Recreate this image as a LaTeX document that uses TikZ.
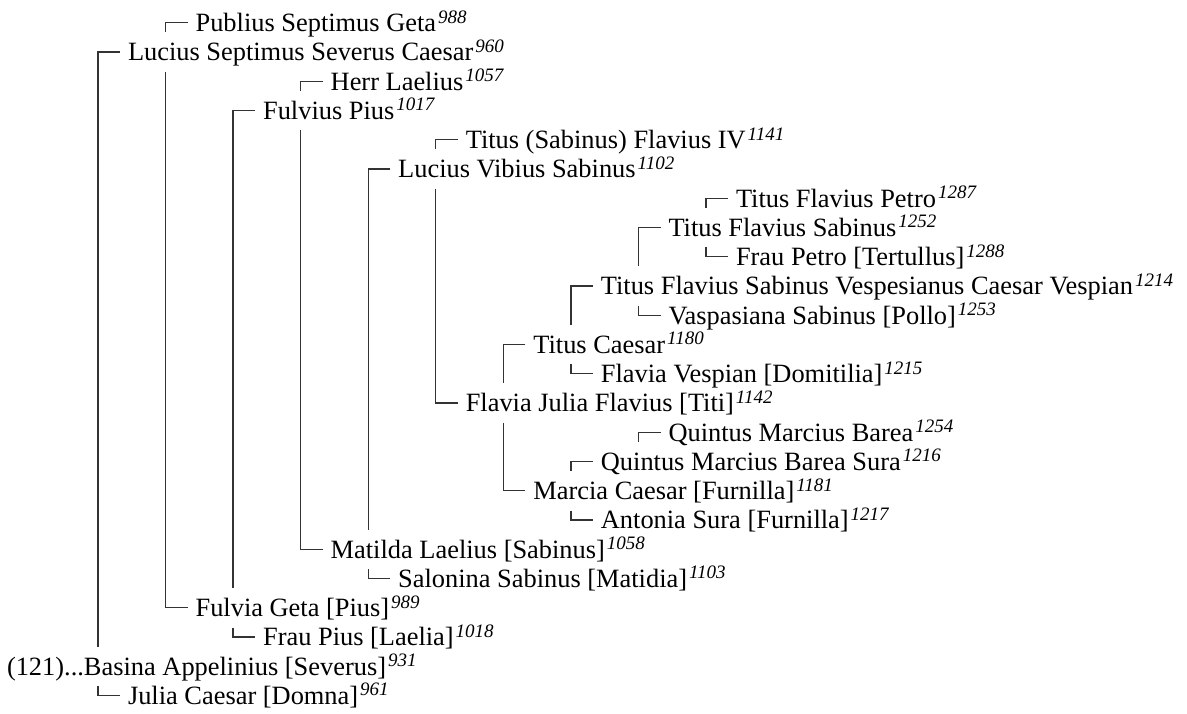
\documentclass[tikz,border=0pt]{standalone}
\usepackage{fontspec}
\setmainfont{Liberation Serif}
\usetikzlibrary{calc}
\newcommand\sn[1]{\kern1pt\raisebox{4.3pt}{\fontsize{9.5}{9.5}\selectfont\itshape #1}}
\newcommand\fatherlink[2]{\draw[link] ($(#2.base west)+(-8,-9)$) -| ($(#2.base west |- #1.base west)+(-30,-28.5)$);}
\newcommand\motherlink[2]{\draw[link] ($(#1.base west -| #2.base west)+(-30,11)$) |- ($(#2.base west)+(-8,-9)$);}
\begin{document}
\begin{tikzpicture}[x=0.5pt,y=-0.5pt,
  person/.style={anchor=base west,inner sep=0pt,outer sep=0pt,font=\fontsize{13.2}{15}\selectfont},
  link/.style={draw=black!80,line width=0.65pt}]
\useasboundingbox (0,0) rectangle (1187,713);
% nodes
\node[person] (p988)  at (195.6,31.7)  {Publius Septimus Geta\sn{988}};
\node[person] (p960)  at (128.0,60.95) {Lucius Septimus Severus Caesar\sn{960}};
\node[person] (p1057) at (330.7,90.2)  {Herr Laelius\sn{1057}};
\node[person] (p1017) at (263.1,119.45) {Fulvius Pius\sn{1017}};
\node[person] (p1141) at (465.8,148.7) {Titus (Sabinus) Flavius IV\sn{1141}};
\node[person] (p1102) at (398.2,177.95) {Lucius Vibius Sabinus\sn{1102}};
\node[person] (p1287) at (736.0,207.2) {Titus Flavius Petro\sn{1287}};
\node[person] (p1252) at (668.5,236.45) {Titus Flavius Sabinus\sn{1252}};
\node[person] (p1288) at (736.0,265.7) {Frau Petro [Tertullus]\sn{1288}};
\node[person] (p1214) at (600.9,294.95) {Titus Flavius Sabinus Vespesianus Caesar Vespian\sn{1214}};
\node[person] (p1253) at (668.5,324.2) {Vaspasiana Sabinus [Pollo]\sn{1253}};
\node[person] (p1180) at (533.4,353.45) {Titus Caesar\sn{1180}};
\node[person] (p1215) at (600.9,382.7) {Flavia Vespian [Domitilia]\sn{1215}};
\node[person] (p1142) at (465.8,411.95) {Flavia Julia Flavius [Titi]\sn{1142}};
\node[person] (p1254) at (668.5,441.2) {Quintus Marcius Barea\sn{1254}};
\node[person] (p1216) at (600.9,470.45) {Quintus Marcius Barea Sura\sn{1216}};
\node[person] (p1181) at (533.4,499.7) {Marcia Caesar [Furnilla]\sn{1181}};
\node[person] (p1217) at (600.9,528.95) {Antonia Sura [Furnilla]\sn{1217}};
\node[person] (p1058) at (330.7,558.2) {Matilda Laelius [Sabinus]\sn{1058}};
\node[person] (p1103) at (398.2,587.45) {Salonina Sabinus [Matidia]\sn{1103}};
\node[person] (p989)  at (195.6,616.7) {Fulvia Geta [Pius]\sn{989}};
\node[person] (p1018) at (263.1,645.95) {Frau Pius [Laelia]\sn{1018}};
\node[person] (p931)  at (7.0,675.2)   {(121)...Basina Appelinius [Severus]\sn{931}};
\node[person] (p961)  at (128.0,704.45) {Julia Caesar [Domna]\sn{961}};
% connectors: child, parent
\fatherlink{p931}{p960}   \motherlink{p931}{p961}
\fatherlink{p960}{p988}   \motherlink{p960}{p989}
\fatherlink{p989}{p1017}  \motherlink{p989}{p1018}
\fatherlink{p1017}{p1057} \motherlink{p1017}{p1058}
\fatherlink{p1058}{p1102} \motherlink{p1058}{p1103}
\fatherlink{p1102}{p1141} \motherlink{p1102}{p1142}
\fatherlink{p1142}{p1180} \motherlink{p1142}{p1181}
\fatherlink{p1180}{p1214} \motherlink{p1180}{p1215}
\fatherlink{p1214}{p1252} \motherlink{p1214}{p1253}
\fatherlink{p1252}{p1287} \motherlink{p1252}{p1288}
\fatherlink{p1181}{p1216} \motherlink{p1181}{p1217}
\fatherlink{p1216}{p1254}
\end{tikzpicture}
\end{document}
